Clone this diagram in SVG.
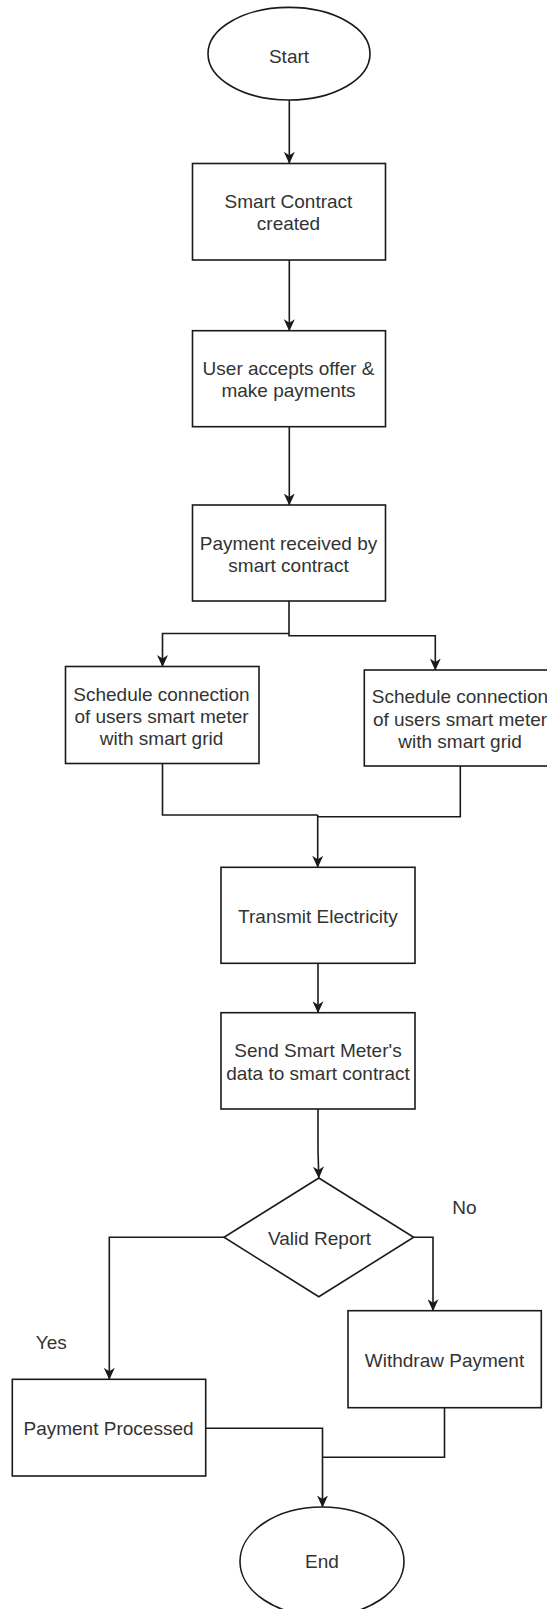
<svg xmlns="http://www.w3.org/2000/svg" width="547" height="1609" viewBox="0 0 547 1609">
  <defs>
    <style>
      .shape { fill: #ffffff; stroke: #1a1a1a; stroke-width: 1.6; }
      .edge { fill: none; stroke: #1a1a1a; stroke-width: 1.6; }
      .label { font-family: "Liberation Sans", Arial, sans-serif; font-size: 19px; fill: #333333; text-anchor: middle; }
    </style>
    <marker id="arrow" viewBox="0 0 12 11" refX="11.5" refY="5.5" markerWidth="12" markerHeight="11" markerUnits="userSpaceOnUse" orient="auto">
      <path d="M0,0 L12,5.5 L0,11 L3.5,5.5 Z" fill="#1a1a1a"/>
    </marker>
  </defs>

  <rect width="547" height="1609" fill="#ffffff"/>

  <!-- connectors -->
  <g id="connectors">
    <path class="edge" d="M289.3,100 V163.3" marker-end="url(#arrow)"/>
    <path class="edge" d="M289.3,260 V330.7" marker-end="url(#arrow)"/>
    <path class="edge" d="M289.3,426.7 V505" marker-end="url(#arrow)"/>
    <path class="edge" d="M289,601 V633.5 H162.5 V666.5" marker-end="url(#arrow)"/>
    <path class="edge" d="M289,633.5 V635.7 H435.3 V670" marker-end="url(#arrow)"/>
    <path class="edge" d="M162.5,763.5 V815 H317.7"/>
    <path class="edge" d="M460.3,766 V816.7 H317.7"/>
    <path class="edge" d="M317.7,815 V867.3" marker-end="url(#arrow)"/>
    <path class="edge" d="M318,963.3 V1012.7" marker-end="url(#arrow)"/>
    <path class="edge" d="M318,1109 V1150 L318.8,1178" marker-end="url(#arrow)"/>
    <path class="edge" d="M224,1237.3 H109.3 V1379.3" marker-end="url(#arrow)"/>
    <path class="edge" d="M413.7,1237.3 H433 V1310.7" marker-end="url(#arrow)"/>
    <path class="edge" d="M205.7,1428.3 H322.5 V1507" marker-end="url(#arrow)"/>
    <path class="edge" d="M444.5,1407.7 V1457.3 H322.5"/>
  </g>

  <g id="start">
    <ellipse class="shape" cx="289" cy="53.7" rx="81" ry="46.3"/>
    <text class="label" x="289" y="63">Start</text>
  </g>

  <g id="contract-created">
    <rect class="shape" x="192.5" y="163.5" width="193" height="96.5"/>
    <text class="label" x="288.5" y="208">Smart Contract</text>
    <text class="label" x="288.5" y="230">created</text>
  </g>

  <g id="user-accepts">
    <rect class="shape" x="192.5" y="330.7" width="193" height="96"/>
    <text class="label" x="288.5" y="375">User accepts offer &amp;</text>
    <text class="label" x="288.5" y="396.5">make payments</text>
  </g>

  <g id="payment-received">
    <rect class="shape" x="192.5" y="505" width="193" height="96"/>
    <text class="label" x="288.5" y="550">Payment received by</text>
    <text class="label" x="288.5" y="571.5">smart contract</text>
  </g>

  <g id="schedule-left">
    <rect class="shape" x="65.5" y="666.5" width="193.5" height="97"/>
    <text class="label" x="161.5" y="700.5">Schedule connection</text>
    <text class="label" x="161.5" y="722.5">of users smart meter</text>
    <text class="label" x="161.5" y="745">with smart grid</text>
  </g>

  <g id="schedule-right">
    <rect class="shape" x="364.3" y="670" width="194" height="96"/>
    <text class="label" x="460" y="703">Schedule connection</text>
    <text class="label" x="460" y="725.5">of users smart meter</text>
    <text class="label" x="460" y="748">with smart grid</text>
  </g>

  <g id="transmit">
    <rect class="shape" x="221" y="867.3" width="194" height="96"/>
    <text class="label" x="318" y="923">Transmit Electricity</text>
  </g>

  <g id="send-data">
    <rect class="shape" x="221" y="1012.7" width="194" height="96.3"/>
    <text class="label" x="318" y="1056.5">Send Smart Meter's</text>
    <text class="label" x="318" y="1080">data to smart contract</text>
  </g>

  <g id="valid-report">
    <polygon class="shape" points="318.8,1178 413.7,1237.3 318.8,1296.7 224,1237.3"/>
    <text class="label" x="319.5" y="1245">Valid Report</text>
  </g>

  <g id="edge-labels">
    <text class="label" x="464.5" y="1214">No</text>
    <text class="label" x="51.3" y="1349">Yes</text>
  </g>

  <g id="withdraw">
    <rect class="shape" x="348" y="1310.7" width="193.3" height="97"/>
    <text class="label" x="444.5" y="1366.5">Withdraw Payment</text>
  </g>

  <g id="payment-processed">
    <rect class="shape" x="12.3" y="1379.3" width="193.4" height="96.7"/>
    <text class="label" x="108.5" y="1435">Payment Processed</text>
  </g>

  <g id="end">
    <ellipse class="shape" cx="322" cy="1561.5" rx="82" ry="54.5"/>
    <text class="label" x="322" y="1568">End</text>
  </g>
</svg>
